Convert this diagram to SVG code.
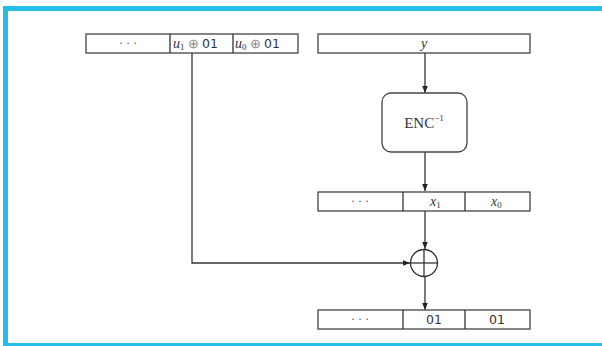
<svg xmlns="http://www.w3.org/2000/svg" width="602" height="346" viewBox="0 0 602 346">
<style>
.box{fill:#fff;stroke:#444;stroke-width:1.3}
.ln{fill:none;stroke:#333;stroke-width:1.3}
.m{font-family:"Liberation Serif",serif;font-size:13px;fill:#333}
.mo{font-family:"Liberation Serif",serif;font-size:13px;fill:#888}
.mi{font-family:"Liberation Serif",serif;font-style:italic;font-size:14px;fill:#333}
.s{font-family:"DejaVu Sans","Liberation Sans",sans-serif;font-size:12.5px;fill:#333}
.d{font-family:"Liberation Serif",serif;font-size:12px;fill:#555}
.sub{font-family:"Liberation Serif",serif;font-size:9px;fill:#333}
.enc{font-family:"Liberation Serif",serif;font-size:15px;fill:#333}
</style>
<defs>
<marker id="ah" viewBox="0 0 10 10" refX="10" refY="5" markerWidth="7" markerHeight="7" orient="auto" markerUnits="userSpaceOnUse">
<path d="M0,1 L10,5 L0,9 z" fill="#222"/>
</marker>
</defs>
<rect x="0" y="0" width="602" height="346" fill="#fff"/>
<g id="frame">
<rect x="3" y="6" width="599" height="5" fill="#27bde8"/>
<rect x="3" y="6" width="5" height="340" fill="#27bde8"/>
<rect x="3" y="343" width="599" height="3" fill="#27bde8"/>
</g>
<g id="connectors">
<line class="ln" x1="425" y1="53" x2="425" y2="93" marker-end="url(#ah)"/>
<line class="ln" x1="425" y1="152" x2="425" y2="191" marker-end="url(#ah)"/>
<line class="ln" x1="425" y1="211" x2="425" y2="249" marker-end="url(#ah)"/>
<polyline class="ln" points="192,53 192,263 410,263" marker-end="url(#ah)"/>
<line class="ln" x1="425" y1="277" x2="425" y2="310" marker-end="url(#ah)"/>
</g>
<g id="u-register">
<rect class="box" x="86" y="34" width="212" height="19"/>
<line class="ln" x1="170" y1="34" x2="170" y2="53"/>
<line class="ln" x1="233" y1="34" x2="233" y2="53"/>
<text class="d" x="128" y="47" text-anchor="middle">· · ·</text>
<text x="173" y="48"><tspan class="mi">u</tspan><tspan class="sub" dy="2">1</tspan><tspan class="mo" dy="-2"> ⊕ </tspan><tspan class="s">01</tspan></text>
<text x="235" y="48"><tspan class="mi">u</tspan><tspan class="sub" dy="2">0</tspan><tspan class="mo" dy="-2"> ⊕ </tspan><tspan class="s">01</tspan></text>
</g>
<g id="y-register">
<rect class="box" x="318" y="34" width="212" height="19"/>
<text class="mi" x="424" y="48" text-anchor="middle">y</text>
</g>
<g id="enc">
<rect class="box" x="382" y="93" width="85" height="59" rx="9" ry="9"/>
<text x="424" y="128" text-anchor="middle"><tspan class="enc">ENC</tspan><tspan class="sub" dy="-7">−1</tspan></text>
</g>
<g id="x-register">
<rect class="box" x="318" y="192" width="212" height="19"/>
<line class="ln" x1="403" y1="192" x2="403" y2="211"/>
<line class="ln" x1="465" y1="192" x2="465" y2="211"/>
<text class="d" x="360" y="205" text-anchor="middle">· · ·</text>
<text x="430" y="206"><tspan class="mi">x</tspan><tspan class="sub" dy="2">1</tspan></text>
<text x="491" y="206"><tspan class="mi">x</tspan><tspan class="sub" dy="2">0</tspan></text>
</g>
<g id="xor">
<circle class="ln" cx="424" cy="263" r="13.5" fill="#fff" stroke="#888"/>
<line class="ln" x1="410.5" y1="263" x2="437.5" y2="263" stroke="#888"/>
<line class="ln" x1="424" y1="249.5" x2="424" y2="276.5" stroke="#888"/>
</g>
<g id="out-register">
<rect class="box" x="318" y="310" width="212" height="19"/>
<line class="ln" x1="403" y1="310" x2="403" y2="329"/>
<line class="ln" x1="465" y1="310" x2="465" y2="329"/>
<text class="d" x="360" y="323" text-anchor="middle">· · ·</text>
<text class="s" x="434" y="324" text-anchor="middle">01</text>
<text class="s" x="497" y="324" text-anchor="middle">01</text>
</g>
</svg>
